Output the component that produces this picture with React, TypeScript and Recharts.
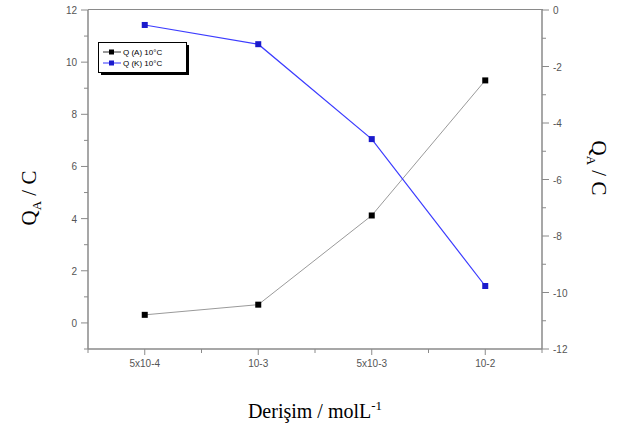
import React from "react";
import { Line, LineChart, XAxis, YAxis } from "recharts";

const concentrations = ["5x10-4", "10-3", "5x10-3", "10-2"];
const chargeAnodic = [0.31, 0.7, 4.12, 9.3];
const chargeCathodic = [-0.53, -1.21, -4.57, -9.77];
const xTicks = [0.5, 1, 1.5, 2, 2.5, 3, 3.5, 4, 4.5];
const leftTicks = [-1, 0, 1, 2, 3, 4, 5, 6, 7, 8, 9, 10, 11, 12];
const rightTicks = [-12, -11, -10, -9, -8, -7, -6, -5, -4, -3, -2, -1, 0];

const data = concentrations.map((c, i) => ({
  x: i + 1,
  label: c,
  qa: chargeAnodic[i],
  qk: chargeCathodic[i],
}));

const AXIS = "#8a8a8a";
const TICK_TEXT = "#555";
const SANS = "'Liberation Sans', Arial, sans-serif";
const SERIF = "'Liberation Serif', 'Times New Roman', serif";

function BottomTick({ x, y, payload }: any) {
  const v = payload.value;
  const major = Number.isInteger(v);
  return (
    <g>
      <line x1={x} x2={x} y1={y} y2={y + (major ? 6 : 4)} stroke={AXIS} strokeWidth={1} />
      {major && (
        <text x={x} y={y + 18} textAnchor="middle" fontSize={10} fill={TICK_TEXT} fontFamily={SANS}>
          {concentrations[v - 1]}
        </text>
      )}
    </g>
  );
}

function LeftTick({ x, y, payload }: any) {
  const v = payload.value;
  const major = v % 2 === 0;
  return (
    <g>
      <line x1={x - (major ? 7 : 4)} x2={x} y1={y} y2={y} stroke={AXIS} strokeWidth={1} />
      {major && (
        <text x={x - 11} y={y + 4} textAnchor="end" fontSize={10} fill={TICK_TEXT} fontFamily={SANS}>
          {v}
        </text>
      )}
    </g>
  );
}

function RightTick({ x, y, payload }: any) {
  const v = payload.value;
  const major = v % 2 === 0;
  return (
    <g>
      <line x1={x} x2={x + (major ? 7 : 4)} y1={y} y2={y} stroke={AXIS} strokeWidth={1} />
      {major && (
        <text x={x + 11} y={y + 4} textAnchor="start" fontSize={10} fill={TICK_TEXT} fontFamily={SANS}>
          {v}
        </text>
      )}
    </g>
  );
}

function SquareDot(color: string) {
  return (props: any) => {
    const { cx, cy, index } = props;
    if (cx == null || cy == null) return <g key={index} />;
    return <rect key={index} x={cx - 3} y={cy - 3} width={6} height={6} fill={color} />;
  };
}

function QLabel({ cx, cy, angle }: { cx: number; cy: number; angle: number }) {
  return (
    <text
      transform={`translate(${cx},${cy}) rotate(${angle})`}
      textAnchor="middle"
      fontSize={21}
      fontFamily={SERIF}
      fill="#000"
    >
      Q<tspan fontSize={13} dy={5}>A</tspan>
      <tspan dy={-5}> / C</tspan>
    </text>
  );
}

function LegendBox() {
  const rows = [
    { line: "#333", dot: "#000", text: "Q (A) 10°C" },
    { line: "#3333ff", dot: "#1a1acc", text: "Q (K) 10°C" },
  ];
  return (
    <svg width={96} height={36} style={{ display: "block" }}>
      <rect x={3} y={3} width={88} height={30} fill="#000" />
      <rect x={0.5} y={0.5} width={88} height={30} fill="#fff" stroke="#000" />
      {rows.map((r, i) => (
        <g key={r.text}>
          <line x1={5} x2={23} y1={10 + i * 11} y2={10 + i * 11} stroke={r.line} strokeWidth={1} />
          <rect x={11} y={7.5 + i * 11} width={5} height={5} fill={r.dot} />
          <text x={25} y={13 + i * 11} fontSize={8} fontFamily={SANS} fill="#000">
            {r.text}
          </text>
        </g>
      ))}
    </svg>
  );
}

export default function App() {
  return (
    <div style={{ position: "absolute", left: 0, top: 0, width: 623, height: 430, background: "#fff" }}>
      <LineChart width={623} height={430} data={data} margin={{ top: 10, right: 0, bottom: 0, left: 0 }}>
        <XAxis
          dataKey="x"
          type="number"
          domain={[0.5, 4.5]}
          ticks={xTicks}
          interval={0}
          height={81}
          stroke={AXIS}
          strokeWidth={1.5}
          tickSize={0}
          tickMargin={0}
          tickLine={false}
          tick={<BottomTick />}
          label={{
            content: () => (
              <text x={315} y={418} textAnchor="middle" fontSize={20} fontFamily={SERIF} fill="#000">
                Derişim / molL<tspan fontSize={13} dy={-8}>-1</tspan>
              </text>
            ),
          }}
        />
        <YAxis
          yAxisId="left"
          type="number"
          domain={[-1, 12]}
          ticks={leftTicks}
          interval={0}
          width={88}
          stroke={AXIS}
          strokeWidth={1.5}
          tickSize={0}
          tickMargin={0}
          tickLine={false}
          tick={<LeftTick />}
          label={{ content: () => <QLabel cx={36} cy={198} angle={-90} /> }}
        />
        <YAxis
          yAxisId="right"
          orientation="right"
          type="number"
          domain={[-12, 0]}
          ticks={rightTicks}
          interval={0}
          width={81}
          stroke={AXIS}
          strokeWidth={1.5}
          tickSize={0}
          tickMargin={0}
          tickLine={false}
          tick={<RightTick />}
          label={{ content: () => <QLabel cx={592} cy={168} angle={90} /> }}
        />
        <Line
          yAxisId="left"
          dataKey="qa"
          stroke="#9a9a9a"
          strokeWidth={1}
          dot={SquareDot("#000")}
          activeDot={false}
          isAnimationActive={false}
        />
        <Line
          yAxisId="right"
          dataKey="qk"
          stroke="#3c3cff"
          strokeWidth={1.2}
          dot={SquareDot("#1a1acc")}
          activeDot={false}
          isAnimationActive={false}
        />
      </LineChart>
      {/* top frame line of the plot box */}
      <div
        style={{
          position: "absolute",
          left: 88,
          top: 9,
          width: 455,
          height: 0,
          borderTop: `1.5px solid ${AXIS}`,
        }}
      />
      <div style={{ position: "absolute", left: 98, top: 42 }}>
        <LegendBox />
      </div>
    </div>
  );
}
